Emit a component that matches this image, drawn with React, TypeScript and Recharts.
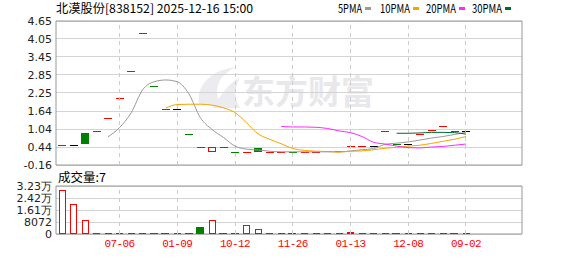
import React from 'react'
import {
  ComposedChart, Bar, Line, XAxis, YAxis, CartesianGrid, ReferenceLine, ReferenceArea,
} from 'recharts'

// candle values, index 0..35 (bars left to right)
const opens = [0.51, 0.51, 0.91, 0.97, 1.40, 2.07, 2.97, 4.24, 2.47, 1.70, 1.70, 0.88, 0.43, 0.27, 0.43, 0.26, 0.27, 0.40,
  0.285, 0.29, 0.28, 0.285, 0.29, 0.295, 0.30, 0.47, 0.48, 0.48, 0.97, 0.53, 0.53, 0.87, 1.00, 1.13, 0.97, 0.97]
const closes = [0.51, 0.51, 0.53, 0.97, 1.40, 2.07, 2.97, 4.24, 2.47, 1.70, 1.70, 0.88, 0.43, 0.45, 0.43, 0.26, 0.27, 0.28,
  0.285, 0.29, 0.28, 0.285, 0.29, 0.295, 0.30, 0.47, 0.48, 0.48, 0.97, 0.53, 0.53, 0.87, 1.00, 1.13, 0.97, 0.97]
const volumes = [29700, 19900, 9650, 120, 90, 60, 80, 150, 110, 70, 60, 40, 4500, 9200, 60, 50, 5900, 3100,
  40, 30, 20, 30, 25, 40, 60, 1100, 1000, 30, 40, 20, 30, 40, 30, 50, 20, 7]

// moving averages
const ma5 = [null, null, null, null, 0.78, 1.09, 1.58, 2.35, 2.62, 2.68, 2.62, 2.22, 1.42, 1.03, 0.76, 0.47, 0.37, 0.34,
  0.30, 0.28, 0.28, 0.28, 0.28, 0.28, 0.28, 0.31, 0.35, 0.39, 0.53, 0.57, 0.61, 0.67, 0.74, 0.79, 0.86, 0.93]
const ma10 = [null, null, null, null, null, null, null, null, null, 1.74, 1.86, 1.87, 1.87, 1.84, 1.75, 1.59, 1.25, 0.88,
  0.70, 0.55, 0.39, 0.33, 0.30, 0.29, 0.27, 0.30, 0.31, 0.35, 0.40, 0.43, 0.47, 0.50, 0.56, 0.63, 0.70, 0.79]
const ma20 = [null, null, null, null, null, null, null, null, null, null, null, null, null, null, null, null, null, null,
  null, 1.13, 1.11, 1.11, 1.10, 1.06, 0.98, 0.92, 0.79, 0.60, 0.54, 0.47, 0.42, 0.41, 0.44, 0.46, 0.50, 0.54]
const ma30 = [null, null, null, null, null, null, null, null, null, null, null, null, null, null, null, null, null, null,
  null, null, null, null, null, null, null, null, null, null, null, 0.90, 0.90, 0.91, 0.93, 0.93, 0.92, 0.87]

const priceTicks = [-0.16, 0.44, 1.04, 1.64, 2.25, 2.85, 3.45, 4.05, 4.65]
const volTicks = [0, 8072, 16144, 24216, 32288]
const volTickLabels = ['0', '8072', '1.61万', '2.42万', '3.23万']
const dateTicks = [5, 10, 15, 20, 25, 30, 35]
const dateLabels = ['07-06', '01-09', '10-12', '11-26', '01-13', '12-08', '09-02']
const maNames = ['5PMA', '10PMA', '20PMA', '30PMA']
const maKeys = ['ma5', 'ma10', 'ma20', 'ma30']
const maColors = ['#999999', '#f5a300', '#ff28ff', '#006b2e']

const UP = '#ff0000'
const DOWN = '#008000'
const X_DOMAIN: [number, number] = [-0.5, 39.85]

const data = closes.map((c, i) => ({
  i,
  open: opens[i],
  close: c,
  prev: i > 0 ? closes[i - 1] : null,
  range: [Math.min(opens[i], c), Math.max(opens[i], c)],
  vol: volumes[i],
  ma5: ma5[i],
  ma10: ma10[i],
  ma20: ma20[i],
  ma30: ma30[i],
}))

function CandleShape(props: any) {
  const { x, y, width, height, payload } = props
  if (!payload) return null
  const cx = Math.round(x + width / 2)
  const w = 8
  const { open, close, prev } = payload
  if (open === close) {
    let color = UP
    if (prev != null && close < prev) color = DOWN
    if (prev != null && close === prev) color = '#000'
    return <rect x={cx - w / 2} y={Math.round(y)} width={w} height={1} fill={color} shapeRendering="crispEdges" />
  }
  const top = Math.round(y)
  const h = Math.max(1, Math.round(height))
  if (close > open) {
    return <rect x={cx - w / 2 + 0.5} y={top + 0.5} width={w - 1} height={h - 1} fill="#fff" stroke={UP} strokeWidth={1} shapeRendering="crispEdges" />
  }
  return <rect x={cx - w / 2} y={top} width={w} height={h} fill={DOWN} shapeRendering="crispEdges" />
}

function VolShape(props: any) {
  const { x, y, width, height, payload } = props
  if (!payload) return null
  const cx = Math.round(x + width / 2)
  const w = 7
  const bottom = Math.round(y + height)
  const h = Math.max(1, Math.round(height))
  const up = payload.prev == null || payload.close >= payload.prev
  if (!up) {
    return <rect x={cx - w / 2 - 0.5} y={bottom - h} width={w + 1} height={h} fill={DOWN} shapeRendering="crispEdges" />
  }
  if (h <= 2) {
    return <rect x={cx - w / 2} y={bottom - h} width={w} height={h} fill={UP} shapeRendering="crispEdges" />
  }
  return <rect x={cx - w / 2 + 0.5} y={bottom - h + 0.5} width={w - 1} height={h - 1} fill="#fff" stroke={UP} strokeWidth={1} shapeRendering="crispEdges" />
}

const axisTick = { fill: '#222', fontSize: 11, fontFamily: 'DejaVu Sans' }
const cjk = 'Noto Sans CJK SC'

export default function App() {
  const lastVol = volumes[volumes.length - 1]
  return (
    <div style={{ position: 'fixed', left: 0, top: 0, width: 578, height: 276, background: '#fff', overflow: 'hidden' }}>
      <style>{`
        .recharts-cartesian-grid line, .recharts-reference-line line, .recharts-reference-area rect { shape-rendering: crispEdges; }
      `}</style>

      {/* watermark */}
      <svg width={578} height={276} style={{ position: 'absolute', left: 0, top: 0 }}>
        <path d="M 199 104 C 196 86 210 70 236 67 C 218 76 212 90 222 106 Z" fill="#ececf0" />
        <path d="M 212 108 C 222 96 226 84 240 78 C 232 92 236 100 240 108 Z" fill="#ececf0" />
        <text x={242} y={104} fontSize={33} fontWeight="bold" fontFamily={cjk} fill="#e8e8ec">东方财富</text>
      </svg>

      <div style={{ position: 'absolute', left: 0, top: 0 }}>
        <ComposedChart width={578} height={180} data={data} margin={{ top: 21, right: 56, bottom: 15, left: 0 }}>
          <CartesianGrid vertical={false} stroke="#d4d4d4" />
          <XAxis dataKey="i" type="number" domain={X_DOMAIN} hide />
          <YAxis
            domain={[priceTicks[0], priceTicks[priceTicks.length - 1]]}
            ticks={priceTicks}
            width={56}
            tickSize={0}
            tickMargin={4}
            axisLine={false}
            tick={axisTick}
            tickFormatter={(v: number) => v.toFixed(2)}
            interval={0}
          />
          {dateTicks.map(t => (
            <ReferenceLine key={t} x={t} stroke="#cccccc" strokeDasharray="4 4" />
          ))}
          <ReferenceArea x1={X_DOMAIN[0]} x2={X_DOMAIN[1]} y1={priceTicks[0]} y2={priceTicks[priceTicks.length - 1]} fill="none" stroke="#999" fillOpacity={0} />
          <Bar dataKey="range" barSize={8} shape={CandleShape} isAnimationActive={false} />
          {maKeys.map((k, i) => (
            <Line key={k} dataKey={k} type="monotone" stroke={maColors[i]} strokeWidth={1} dot={false} activeDot={false} connectNulls={false} isAnimationActive={false} />
          ))}
        </ComposedChart>
      </div>

      <div style={{ position: 'absolute', left: 0, top: 170 }}>
        <ComposedChart width={578} height={106} data={data} margin={{ top: 16, right: 56, bottom: 21, left: 0 }}>
          <CartesianGrid vertical={false} stroke="#d4d4d4" />
          <XAxis
            dataKey="i"
            type="number"
            domain={X_DOMAIN}
            ticks={dateTicks}
            interval={0}
            tickFormatter={(v: number) => dateLabels[dateTicks.indexOf(v)]}
            axisLine={false}
            tickLine={false}
            tickSize={0}
            tickMargin={5}
            height={21}
            tick={{ fill: '#ff0000', fontSize: 11, fontFamily: 'Liberation Mono', letterSpacing: -0.6 }}
          />
          <YAxis
            domain={[0, volTicks[volTicks.length - 1]]}
            ticks={volTicks}
            width={56}
            tickSize={0}
            tickMargin={4}
            axisLine={false}
            tick={axisTick}
            tickFormatter={(v: number) => volTickLabels[volTicks.indexOf(v)]}
            interval={0}
          />
          {dateTicks.map(t => (
            <ReferenceLine key={t} x={t} stroke="#cccccc" strokeDasharray="4 4" />
          ))}
          <ReferenceArea x1={X_DOMAIN[0]} x2={X_DOMAIN[1]} y1={0} y2={volTicks[volTicks.length - 1]} fill="none" stroke="#999" fillOpacity={0} />
          <Bar dataKey="vol" barSize={7} shape={VolShape} isAnimationActive={false} />
        </ComposedChart>
      </div>

      {/* header texts and legend */}
      <svg width={578} height={276} style={{ position: 'absolute', left: 0, top: 0, pointerEvents: 'none' }}>
        <text x={56} y={13} fontSize={12} fontFamily={cjk} fill="#000" textLength={197} lengthAdjust="spacingAndGlyphs">
          北漠股份[838152] 2025-12-16 15:00
        </text>
        {maNames.map((name, i) => {
          const xs = [338, 380, 426, 472]
          const tw = name.length * 6
          return (
            <g key={name}>
              <text x={xs[i]} y={13} fontSize={12} fontFamily={cjk} fill="#000" textLength={tw} lengthAdjust="spacingAndGlyphs">{name}</text>
              <rect x={xs[i] + tw + 3} y={7} width={6} height={3} fill={maColors[i]} />
            </g>
          )
        })}
        <text x={58} y={182} fontSize={12} fontFamily={cjk} fill="#000" textLength={48} lengthAdjust="spacingAndGlyphs">
          成交量:{lastVol}
        </text>
      </svg>
    </div>
  )
}
